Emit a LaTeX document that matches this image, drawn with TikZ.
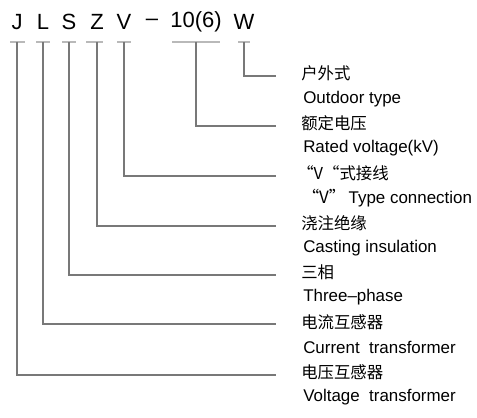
\documentclass[tikz,border=0pt]{standalone}
\usepackage{fontspec}
\setmainfont{Liberation Sans}
\newfontfamily\cjk{Noto Sans CJK SC}
\definecolor{leadgray}{RGB}{120,120,120}
\definecolor{bargray}{RGB}{185,185,185}
\tikzset{
  code/.style={inner sep=0pt, font=\fontsize{16.5}{19}\selectfont},
  cnlabel/.style={anchor=west, inner sep=0pt, font=\cjk\fontsize{12.3}{14}\selectfont},
  enlabel/.style={anchor=west, inner sep=0pt, font=\fontsize{12.7}{15}\selectfont},
  underbar/.style={draw=bargray, line width=1.1pt},
  leader/.style={draw=leadgray, line width=0.8pt}
}
\begin{document}
\begin{tikzpicture}[x=0.75pt,y=0.75pt,yscale=-1,xscale=1]
\useasboundingbox (0,0) rectangle (477,417);

% Model code
\node [code] (jj) at (17,22) {J};
\node [code] (ll) at (43,22) {L};
\node [code] (ss) at (69,22) {S};
\node [code] (zz) at (97,22) {Z};
\node [code] (vv) at (124,22) {V};
\node [code] (dash) at (152,22) {–};
\node [code] (num) at (196,22) {10(6)};
\node [code] (ww) at (244,22) {W};

% Underbars
\draw [underbar] (10,42) -- (25,42);
\draw [underbar] (36,42) -- (50,42);
\draw [underbar] (62,42) -- (76,42);
\draw [underbar] (86,42) -- (103,42);
\draw [underbar] (117,42) -- (131,42);
\draw [underbar] (172,42) -- (220,42);
\draw [underbar] (238,42) -- (250,42);

% Leader start and end points
\coordinate (j0) at (17,42);   \coordinate (j1) at (276,375);
\coordinate (l0) at (43,42);   \coordinate (l1) at (276,324);
\coordinate (s0) at (69,42);   \coordinate (s1) at (276,275);
\coordinate (z0) at (97,42);   \coordinate (z1) at (276,226);
\coordinate (v0) at (124,42);  \coordinate (v1) at (276,176);
\coordinate (n0) at (196,42);  \coordinate (n1) at (276,126);
\coordinate (w0) at (244,42);  \coordinate (w1) at (276,76);

% Leaders
\draw [leader] (w0) |- (w1);
\draw [leader] (n0) |- (n1);
\draw [leader] (v0) |- (v1);
\draw [leader] (z0) |- (z1);
\draw [leader] (s0) |- (s1);
\draw [leader] (l0) |- (l1);
\draw [leader] (j0) |- (j1);

% Labels
\node [cnlabel] (cnw) at (301,73) {户外式};
\node [enlabel] (enw) at (303,99) {Outdoor type};
\node [cnlabel] (cnn) at (301,123) {额定电压};
\node [enlabel] (enn) at (303,148) {Rated voltage(kV)};
\node [cnlabel] (cnv) at (297,173) {“V“式接线};
\node [enlabel] (env) at (302,198) {{\cjk “V”}\,Type connection};
\node [cnlabel] (cnz) at (301,223) {浇注绝缘};
\node [enlabel] (enz) at (303,248) {Casting insulation};
\node [cnlabel] (cns) at (301,272) {三相};
\node [enlabel] (ens) at (303,297) {Three–phase};
\node [cnlabel] (cnl) at (301,322) {电流互感器};
\node [enlabel] (enl) at (303,347) {Current\ \ transformer};
\node [cnlabel] (cnj) at (301,372) {电压互感器};
\node [enlabel] (enj) at (303,397) {Voltage\ \ transformer};

\end{tikzpicture}
\end{document}
